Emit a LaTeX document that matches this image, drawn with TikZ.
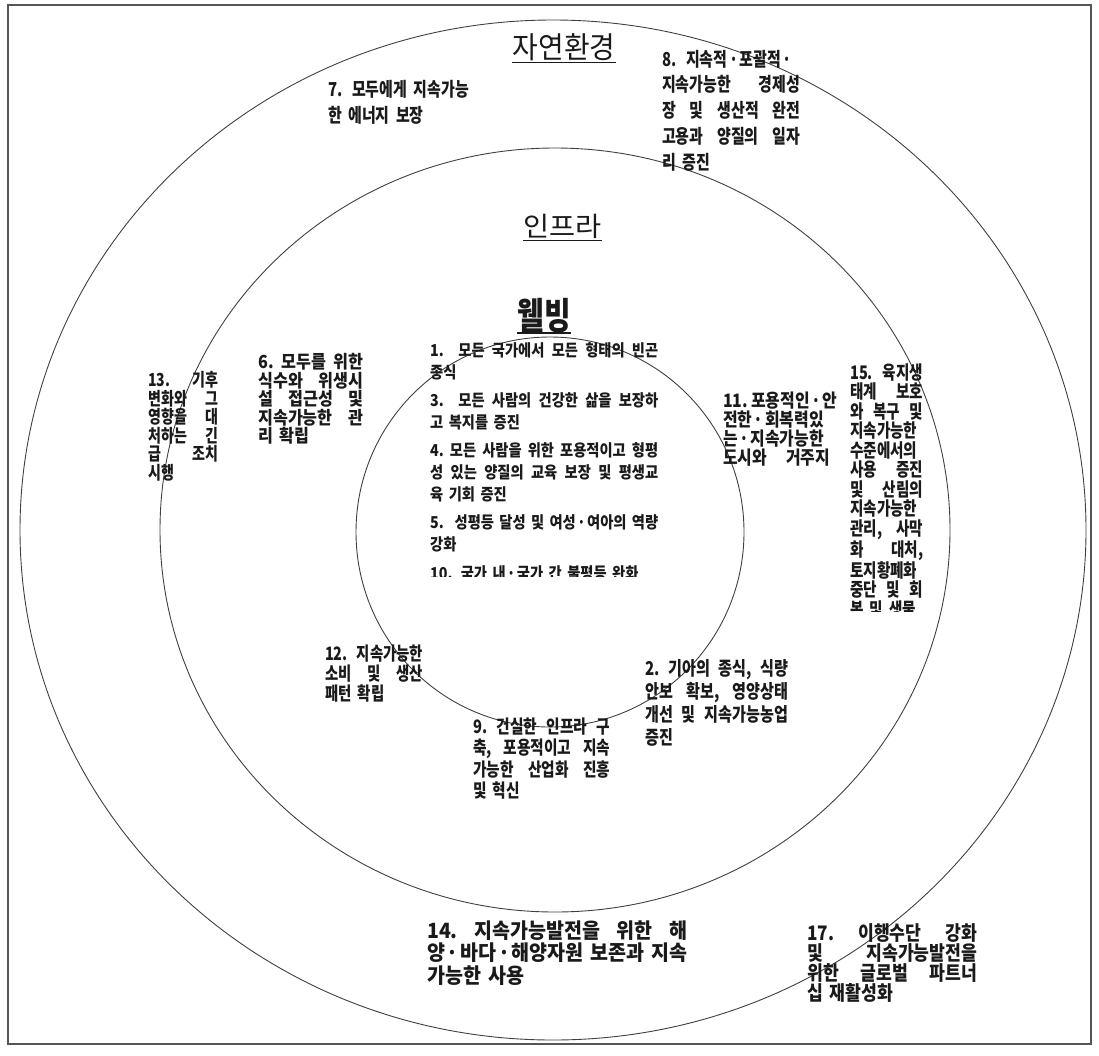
\documentclass[tikz,border=0pt]{standalone}
\usepackage{fontspec}
\newfontfamily\krt[FakeStretch=0.78]{Noto Sans CJK KR}
\newfontfamily\krc[FakeStretch=0.795]{Noto Sans CJK KR}
\newfontfamily\krq[FakeStretch=0.87]{Noto Sans CJK KR}
\newfontfamily\krv[FakeStretch=0.9]{Noto Sans CJK KR}
\newfontfamily\krw[FakeStretch=0.86]{Noto Sans CJK KR}
\newfontfamily\krh[FakeStretch=0.93]{Noto Sans CJK KR}
\newfontfamily\krp[FakeStretch=1.05]{Noto Sans CJK KR}
\newcommand\jz[1]{\makebox[\linewidth][s]{\frenchspacing\spaceskip=0.22em plus 1fil minus 0.05em\relax\xspaceskip=\spaceskip #1}}
\newcommand\jl[1]{\jz{#1}\\}
\newcommand\md{\hspace{0.08em}·\hspace{0.08em}}
\definecolor{ink}{HTML}{1A1A1A}
\definecolor{ringc}{HTML}{404040}
\definecolor{framec}{HTML}{555555}
\begin{document}
\begin{tikzpicture}[x=1pt,y=-1pt,
  blk/.style={anchor=base west, inner sep=0pt, align=left, text=ink},
  ring/.style={draw=ringc, line width=0.9pt},
  framebox/.style={draw=framec, line width=1.4pt},
  head/.style={anchor=base, inner sep=0pt, text=ink},
  uline/.style={draw=ink, line width=1.1pt}]
\useasboundingbox (0,0) rectangle (1099,1055);
\draw[framebox] (8,5) rectangle (1091,1044);
% rings
\draw[ring] (553,530) ellipse [x radius=533pt, y radius=510pt];
\draw[ring] (555,530) ellipse [x radius=395pt, y radius=382pt];
\draw[ring] (550,532) ellipse [x radius=194pt, y radius=195pt];
% headings
\node[head, font=\krh\fontsize{30}{30}\selectfont] (hz) at (564,58) {자연환경};
\draw[uline] ([yshift=-4.5pt]hz.base west) -- ([yshift=-4.5pt]hz.base east);
\node[head, font=\krp\fontsize{27}{27}\selectfont] (hi) at (562.5,236) {인프라};
\draw[uline] ([yshift=-4.5pt]hi.base west) -- ([yshift=-4.5pt]hi.base east);
\node[head, font=\krt\bfseries\fontsize{37}{37}\selectfont] (hw) at (544,329) {웰빙};
\draw[uline, line width=1.4pt] ([yshift=-4pt]hw.base west) -- ([yshift=-4pt]hw.base east);
% outer ring items
\node[blk, text width=170pt, font=\krt\bfseries\fontsize{19.2}{26}\selectfont] (n7) at (328,96) {%
7. 모두에게 지속가능\\
한 에너지 보장};
\node[blk, text width=138pt, font=\krt\bfseries\fontsize{19.2}{25.75}\selectfont] (n8) at (662,66) {%
8. 지속적\md{}포괄적\md{}\\
\jl{지속가능한 경제성}
\jl{장 및 생산적 완전}
\jl{고용과 양질의 일자}
리 증진};
\node[blk, text width=70pt, font=\krt\bfseries\fontsize{18}{18.5}\selectfont] (n13) at (148,386.8) {%
\jl{13. 기후}
\jl{변화와 그}
\jl{영향을 대}
\jl{처하는 긴}
\jl{급 조치}
시행};
\begin{scope}
\clip (840,355) rectangle (938,611);
\node[blk, text width=73pt, font=\krt\bfseries\fontsize{18.7}{19.5}\selectfont] (n15) at (850,379) {%
\jl{15. 육지생}
\jl{태계 보호}
\jl{와 복구 및}
지속가능한\\
수준에서의\\
\jl{사용 증진}
\jl{및 산림의}
지속가능한\\
\jl{관리, 사막}
\jl{화 대처,}
토지황폐화\\
\jl{중단 및 회}
복 및 생물};
\end{scope}
\node[blk, text width=260pt, font=\krh\bfseries\fontsize{21}{22.5}\selectfont] (n14) at (427,938) {%
\jl{14. 지속가능발전을 위한 해}
\jl{양\md{}바다\md{}해양자원 보존과 지속}
가능한 사용};
\node[blk, text width=170pt, font=\krw\bfseries\fontsize{20}{20}\selectfont] (n17) at (807,940.5) {%
\jl{17. 이행수단 강화}
\jl{및 지속가능발전을}
\jl{위한 글로벌 파트너}
십 재활성화};
% middle ring items
\node[blk, text width=105pt, font=\krv\bfseries\fontsize{18}{18.5}\selectfont] (n6) at (258,368.8) {%
\jl{6. 모두를 위한}
\jl{식수와 위생시}
\jl{설 접근성 및}
\jl{지속가능한 관}
리 확립};
\node[blk, text width=107pt, font=\krw\bfseries\fontsize{18.5}{19}\selectfont] (n11) at (723,407) {%
\jl{11. 포용적인\md{}안}
\jl{전한\md{}회복력있}
\jl{는\md{}지속가능한}
\jz{도시와 거주지}};
\node[blk, text width=98pt, font=\krt\bfseries\fontsize{18.5}{20}\selectfont] (n12) at (325,660) {%
\jl{12. 지속가능한}
\jl{소비 및 생산}
패턴 확립};
\node[blk, text width=143pt, font=\krc\bfseries\fontsize{19}{23}\selectfont] (n2) at (645,675) {%
\jl{2. 기아의 종식, 식량}
\jl{안보 확보, 영양상태}
\jl{개선 및 지속가능농업}
증진};
\node[blk, text width=137pt, font=\krc\bfseries\fontsize{18.5}{21.5}\selectfont] (n9) at (473,733) {%
\jl{9. 건실한 인프라 구}
\jl{축, 포용적이고 지속}
\jl{가능한 산업화 진흥}
및 혁신};
% inner ring items (clipped text box)
\begin{scope}
\clip (420,330) rectangle (672,576);
\node[blk, text width=228pt, font=\krq\bfseries\fontsize{16.4}{22}\selectfont] (n1) at (430,356) {%
\jl{1.\ \ 모든 국가에서 모든 형태의 빈곤}
종식\\[6.3pt]
\jl{3.\ \ 모든 사람의 건강한 삶을 보장하}
고 복지를 증진\\[6.3pt]
\jl{4. 모든 사람을 위한 포용적이고 형평}
\jl{성 있는 양질의 교육 보장 및 평생교}
육 기회 증진\\[6.3pt]
\jl{5.\ \ 성평등 달성 및 여성\md{}여아의 역량}
강화\\[6.3pt]
10. 국가 내\md{}국가 간 불평등 완화};
\end{scope}
\end{tikzpicture}
\end{document}
